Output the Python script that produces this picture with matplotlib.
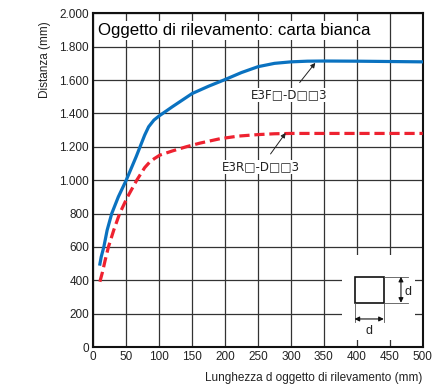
import numpy as np
import matplotlib.pyplot as plt
from matplotlib.patches import Rectangle

plt.rcParams['font.family'] = ['Liberation Sans', 'DejaVu Sans']

## Data

e3f_x = [10, 12, 16, 21, 28, 38, 50, 65, 78, 84, 92, 100, 120, 150, 175, 200, 225, 250, 275, 300, 325, 350, 400, 450, 500]
e3f_y = [497, 540, 600, 700, 800, 900, 1000, 1140, 1270, 1320, 1360, 1385, 1440, 1519, 1563, 1603, 1645, 1680, 1700, 1709, 1713, 1714, 1713, 1711, 1709]

e3r_x = [10, 14, 18, 23, 31, 40, 52, 66, 78, 86, 93, 101, 120, 141, 162, 192, 220, 250, 275, 300, 350, 400, 450, 500]
e3r_y = [391, 450, 520, 600, 700, 800, 900, 1000, 1075, 1110, 1130, 1150, 1175, 1200, 1222, 1248, 1264, 1273, 1278, 1280, 1280, 1280, 1280, 1280]

x_ticks = [0, 50, 100, 150, 200, 250, 300, 350, 400, 450, 500]
y_ticks = [0, 200, 400, 600, 800, 1000, 1200, 1400, 1600, 1800, 2000]
y_labels = ['0', '200', '400', '600', '800', '1.000', '1.200', '1.400', '1.600', '1.800', '2.000']

title = 'Oggetto di rilevamento: carta bianca'
label_f = 'E3F\u25a1-D\u25a1\u25a13'
label_r = 'E3R\u25a1-D\u25a1\u25a13'

## Figure

fig = plt.figure(figsize=(4.33, 3.85), dpi=100)
ax = fig.add_axes([93.3 / 433, 1 - 347 / 385, (422.7 - 93.3) / 433, (347 - 13.3) / 385])

ax.set_xlim(0, 500)
ax.set_ylim(0, 2000)
ax.set_xticks(x_ticks)
ax.set_yticks(y_ticks)
ax.set_yticklabels(y_labels)
ax.tick_params(length=0, labelsize=8.5, colors='#222222', pad=3)
ax.grid(True, color='#333333', linewidth=0.9)
ax.set_axisbelow(True)
for s in ax.spines.values():
    s.set_linewidth(1.5)
    s.set_color('#111111')

ax.plot(e3f_x, e3f_y, color='#0a72c0', linewidth=2.3, zorder=3, solid_joinstyle='round')
ax.plot(e3r_x, e3r_y, color='#ee2230', linewidth=2.3, linestyle=(0, (3.2, 1.5)), zorder=3)

ax.text(7, 1897, title, fontsize=12.2, ha='left', va='center', zorder=4,
        bbox=dict(facecolor='white', edgecolor='none', pad=1.2))

lab_font = ['DejaVu Sans']
ax.annotate(label_f, xy=(337, 1703), xytext=(298, 1509), fontsize=8.6, ha='center', va='center',
            color='#222222', zorder=4, family=lab_font,
            bbox=dict(facecolor='white', edgecolor='none', pad=0.5),
            arrowprops=dict(arrowstyle='-|>', color='#222222', lw=0.7, mutation_scale=7, shrinkA=5, shrinkB=0))
ax.annotate(label_r, xy=(292, 1283), xytext=(255, 1080), fontsize=8.6, ha='center', va='center',
            color='#222222', zorder=4, family=lab_font,
            bbox=dict(facecolor='white', edgecolor='none', pad=0.5),
            arrowprops=dict(arrowstyle='-|>', color='#222222', lw=0.7, mutation_scale=7, shrinkA=5, shrinkB=0))

# inset sketch of the target
ax.add_patch(Rectangle((378, 42), 111, 509, facecolor='white', edgecolor='none', zorder=2))
ax.add_patch(Rectangle((396.5, 265), 44.5, 156, facecolor='none', edgecolor='#111111', linewidth=1.2, zorder=4))
ax.plot([441, 477], [421, 421], color='#555555', lw=0.6, zorder=4)
ax.plot([441, 477], [265, 265], color='#555555', lw=0.6, zorder=4)
ax.plot([396.5, 396.5], [265, 150], color='#555555', lw=0.6, zorder=4)
ax.plot([441, 441], [265, 150], color='#555555', lw=0.6, zorder=4)
ax.annotate('', xy=(467, 421), xytext=(467, 265),
            arrowprops=dict(arrowstyle='<|-|>', color='#111111', lw=0.8, mutation_scale=7, shrinkA=0, shrinkB=0), zorder=5)
ax.annotate('', xy=(441, 168), xytext=(396.5, 168),
            arrowprops=dict(arrowstyle='<|-|>', color='#111111', lw=0.8, mutation_scale=7, shrinkA=0, shrinkB=0), zorder=5)
ax.text(472, 330, 'd', fontsize=9, ha='left', va='center', color='#222222', zorder=5)
ax.text(418.75, 95, 'd', fontsize=9, ha='center', va='center', color='#222222', zorder=5)

fig.text(422 / 433, 1 - 378 / 385, 'Lunghezza d oggetto di rilevamento (mm)', fontsize=8.5,
         ha='right', va='center', color='#222222')
fig.text(45 / 433, 1 - 60 / 385, 'Distanza (mm)', fontsize=8.5, rotation=90,
         ha='center', va='center', color='#222222')

fig.savefig('out.png', dpi=100)
